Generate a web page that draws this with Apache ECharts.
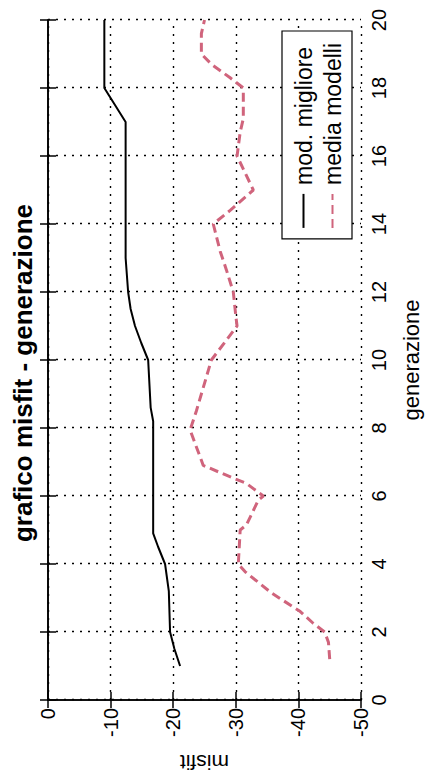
<!DOCTYPE html>
<html>
<head>
<meta charset="utf-8">
<script src="https://cdn.jsdelivr.net/npm/echarts@6/dist/echarts.min.js"></script>
<style>
html,body{margin:0;padding:0;background:#fff;overflow:hidden;width:425px;height:774px;}
#chart{position:absolute;left:0;top:0;width:774px;height:425px;transform-origin:0 0;transform:translate(0px,774px) rotate(-90deg);}
</style>
</head>
<body>
<div id="chart"></div>
<script>
// Chart data
const titleText = 'grafico misfit - generazione';
const xLabel = 'generazione';
const yLabel = 'misfit';
const seriesNames = ['mod. migliore', 'media modelli'];

const bestGen    = [1.0, 1.5, 2.0, 3.2, 4.0, 4.5, 4.9, 8.2, 8.6, 10.0, 10.5, 11.0, 11.5, 12.0, 13.0, 17.0, 17.5, 18.0, 20.0];
const bestMisfit = [-21.1, -20.2, -19.5, -19.3, -18.7, -17.6, -16.8, -16.8, -16.4, -16.0, -14.9, -13.9, -13.2, -12.8, -12.4, -12.4, -10.7, -9.0, -9.0];

const meanGen    = [1.2, 1.7, 2.0, 2.25, 2.6, 3.15, 3.77, 4.0, 5.0, 5.15, 5.88, 6.0, 6.37, 6.5, 6.9, 7.05, 7.94, 8.5, 10.0, 11.0, 11.3, 12.0, 12.65, 13.2, 14.0, 14.4, 15.0, 16.0, 16.7, 17.1, 18.0, 18.3, 18.7, 19.0, 19.6, 20.0];
const meanMisfit = [-45.0, -44.8, -44.2, -42.4, -40.3, -35.7, -31.5, -30.4, -30.7, -31.7, -33.6, -34.4, -31.7, -29.9, -24.8, -24.5, -22.7, -23.7, -26.1, -30.2, -30.0, -29.6, -28.5, -27.5, -26.4, -29.1, -32.8, -30.2, -30.7, -31.2, -31.2, -29.1, -26.1, -24.5, -24.5, -25.0];

const zip = (a, b) => a.map((v, i) => [v, b[i]]);

const font = "'Liberation Sans', Arial, Helvetica, sans-serif";
const chart = echarts.init(document.getElementById('chart'), null, {renderer: 'svg'});

const gridLine = {show: true, lineStyle: {color: '#000', width: 1.4, type: [2, 6]}};
const boxLine = {show: true, lineStyle: {color: '#000', width: 1.6}};
const inTick = {show: true, inside: true, length: 8, lineStyle: {color: '#000', width: 1.5}};

chart.setOption({
  backgroundColor: '#fff',
  animation: false,
  title: {
    text: titleText,
    left: 396, top: 5, textAlign: 'center',
    textStyle: {fontFamily: font, fontWeight: 'bold', fontSize: 26, color: '#000'}
  },
  legend: {
    orient: 'vertical',
    right: 31, bottom: 73,
    itemWidth: 34, itemHeight: 14, itemGap: 6,
    padding: [10, 12, 8, 10],
    borderColor: '#000', borderWidth: 1.2, backgroundColor: '#fff',
    itemStyle: {opacity: 0},
    textStyle: {fontFamily: font, fontSize: 23, color: '#000', padding: [0, 0, 0, 4]},
    data: seriesNames
  },
  grid: {left: 74, right: 20, top: 48, bottom: 64, containLabel: false, outerBoundsMode: 'none'},
  xAxis: [{
    type: 'value', min: 0, max: 20, interval: 2, position: 'bottom',
    name: xLabel, nameLocation: 'middle', nameGap: 39,
    nameTextStyle: {fontFamily: font, fontSize: 22, color: '#000'},
    axisLine: boxLine, axisTick: inTick,
    axisLabel: {fontFamily: font, fontSize: 20, color: '#000', margin: 8},
    splitLine: gridLine
  }, {
    type: 'value', min: 0, max: 20, interval: 2, position: 'top',
    axisLine: boxLine, axisTick: inTick, axisLabel: {show: false}, splitLine: {show: false}
  }],
  yAxis: [{
    type: 'value', min: -50, max: 0, interval: 10, position: 'left',
    name: yLabel, nameLocation: 'middle', nameGap: 52,
    nameTextStyle: {fontFamily: font, fontSize: 21, color: '#000'},
    axisLine: boxLine, axisTick: inTick,
    axisLabel: {fontFamily: font, fontSize: 20, color: '#000', margin: 8},
    splitLine: gridLine
  }, {
    type: 'value', min: -50, max: 0, interval: 10, position: 'right',
    axisLine: boxLine, axisTick: inTick, axisLabel: {show: false}, splitLine: {show: false}
  }],
  series: [{
    name: seriesNames[0], type: 'line', symbol: 'none',
    xAxisIndex: 0, yAxisIndex: 0,
    data: zip(bestGen, bestMisfit),
    lineStyle: {color: '#000', width: 2},
    itemStyle: {color: '#000'}
  }, {
    name: seriesNames[1], type: 'line', symbol: 'none',
    xAxisIndex: 0, yAxisIndex: 0,
    data: zip(meanGen, meanMisfit),
    lineStyle: {color: '#d0647c', width: 3, type: [9, 5]},
    itemStyle: {color: '#d0647c'}
  }]
});
</script>
</body>
</html>
